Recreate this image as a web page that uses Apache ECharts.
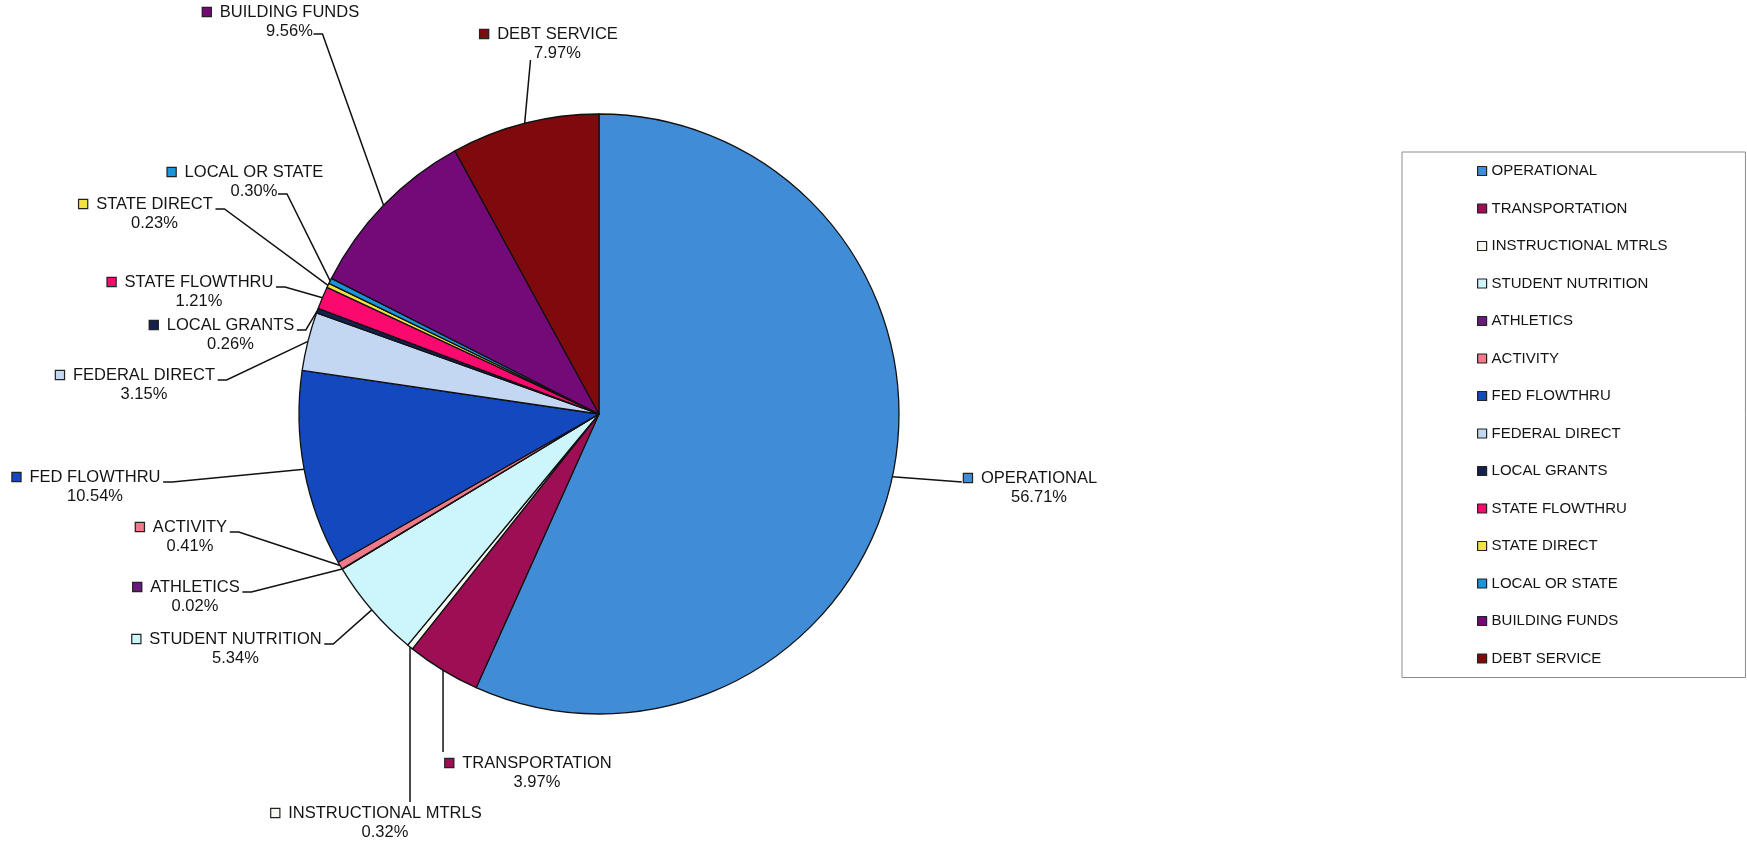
<!DOCTYPE html>
<html>
<head>
<meta charset="utf-8">
<title>Funds</title>
<script src="https://cdn.jsdelivr.net/npm/echarts@6.0.0/dist/echarts.min.js"></script>
<style>
html, body {
    margin: 0;
    padding: 0;
    background: #fff;
}
#fundChart {
    width: 1747px;
    height: 845px;
}
</style>
</head>
<body>
<div id="fundChart"></div>
<script>
// slices run clockwise from 12 o'clock in this order
var fundNames = ['OPERATIONAL', 'TRANSPORTATION', 'INSTRUCTIONAL MTRLS', 'STUDENT NUTRITION', 'ATHLETICS', 'ACTIVITY', 'FED FLOWTHRU',
    'FEDERAL DIRECT', 'LOCAL GRANTS', 'STATE FLOWTHRU', 'STATE DIRECT', 'LOCAL OR STATE', 'BUILDING FUNDS', 'DEBT SERVICE']
var fundPercents = [56.71, 3.97, 0.32, 5.34, 0.02, 0.41, 10.54, 3.15, 0.26, 1.21, 0.23, 0.30, 9.56, 7.97]
var fundColors = ['#418cd7', '#9e0e55', '#f4faf2', '#ccf6fc', '#6a1a7a', '#f07a8a', '#1448be',
    '#c3d6f2', '#14204e', '#fa0a6e', '#f2e43c', '#1a94da', '#740a78', '#7e0a0e']

// callout placement: [centre x of the name, y of the name line, where the leader meets it]
var calloutPos = [
    [1039, 478, 'R'], [537, 763, 'D'], [385, 813, 'D'], [235.5, 639, 'L'], [195, 587, 'L'],
    [190, 527, 'L'], [95, 477, 'L'], [144, 375, 'L'], [230.5, 325, 'L'], [199, 282, 'L'],
    [154.5, 204, 'L'], [254, 172, 'V'], [289.5, 12, 'V'], [557.5, 34, 'U']
]

var textFont = 'Liberation Sans, Arial, sans-serif'
var labelRich = {
    gap: { width: 9 },
    pad: { width: 17 },
    nm: { fontSize: 16.5, lineHeight: 19.5, color: '#141414', fontFamily: textFont },
    val: { fontSize: 16.5, lineHeight: 19.5, color: '#141414', fontFamily: textFont }
}
fundColors.forEach(function (c, i) {
    labelRich['k' + i] = { width: 8, height: 8, backgroundColor: c, borderColor: '#222', borderWidth: 1.2 }
})

var chart = echarts.init(document.getElementById('fundChart'))

var option = {
    backgroundColor: '#fff',
    animation: false,
    color: fundColors,
    legend: {
        orient: 'vertical',
        left: 1402,
        top: 152,
        padding: [11, 78, 11, 75],
        borderColor: '#8c8c8c',
        borderWidth: 1,
        icon: 'rect',
        itemWidth: 9,
        itemHeight: 9,
        itemGap: 21.5,
        selectedMode: false,
        itemStyle: { borderColor: '#222', borderWidth: 1.2 },
        textStyle: { fontSize: 15, lineHeight: 16, color: '#141414', fontFamily: textFont },
        data: fundNames
    },
    series: [{
        type: 'pie',
        center: [599, 414],
        radius: 300,
        startAngle: 90,
        clockwise: true,
        avoidLabelOverlap: false,
        emphasis: { disabled: true },
        itemStyle: { borderColor: '#111', borderWidth: 1.3 },
        label: {
            show: true,
            position: 'outside',
            formatter: function (p) {
                return '{k' + p.dataIndex + '|}{gap|}{nm|' + p.name + '}{pad|}\n{val|' + p.value.toFixed(2) + '%}'
            },
            rich: labelRich
        },
        labelLine: {
            show: true,
            length: 10,
            length2: 10,
            lineStyle: { color: '#111', width: 1.5 }
        },
        labelLayout: function (params) {
            var p = calloutPos[params.dataIndex]
            var cx = p[0]
            var ny = p[1]
            var half = params.labelRect.width / 2 - 17
            var edge = params.labelLinePoints[0]
            var pts
            if (p[2] === 'L') {
                pts = [edge, [cx + half + 11, ny + 5], [cx + half + 2, ny + 5]]
            } else if (p[2] === 'V') {
                pts = [edge, [cx + 33, ny + 22], [cx + 24, ny + 22]]
            } else if (p[2] === 'R') {
                pts = [edge, [cx - half - 27, ny + 4]]
            } else if (p[2] === 'U') {
                pts = [edge, [cx - 27, ny + 26]]
            } else {
                pts = [edge, [edge[0], ny - 11]]
            }
            return {
                x: cx,
                y: ny + 9.75,
                align: 'center',
                verticalAlign: 'middle',
                labelLinePoints: pts
            }
        },
        data: fundNames.map(function (n, i) {
            return { name: n, value: fundPercents[i] }
        })
    }]
}

chart.setOption(option)
</script>
</body>
</html>
